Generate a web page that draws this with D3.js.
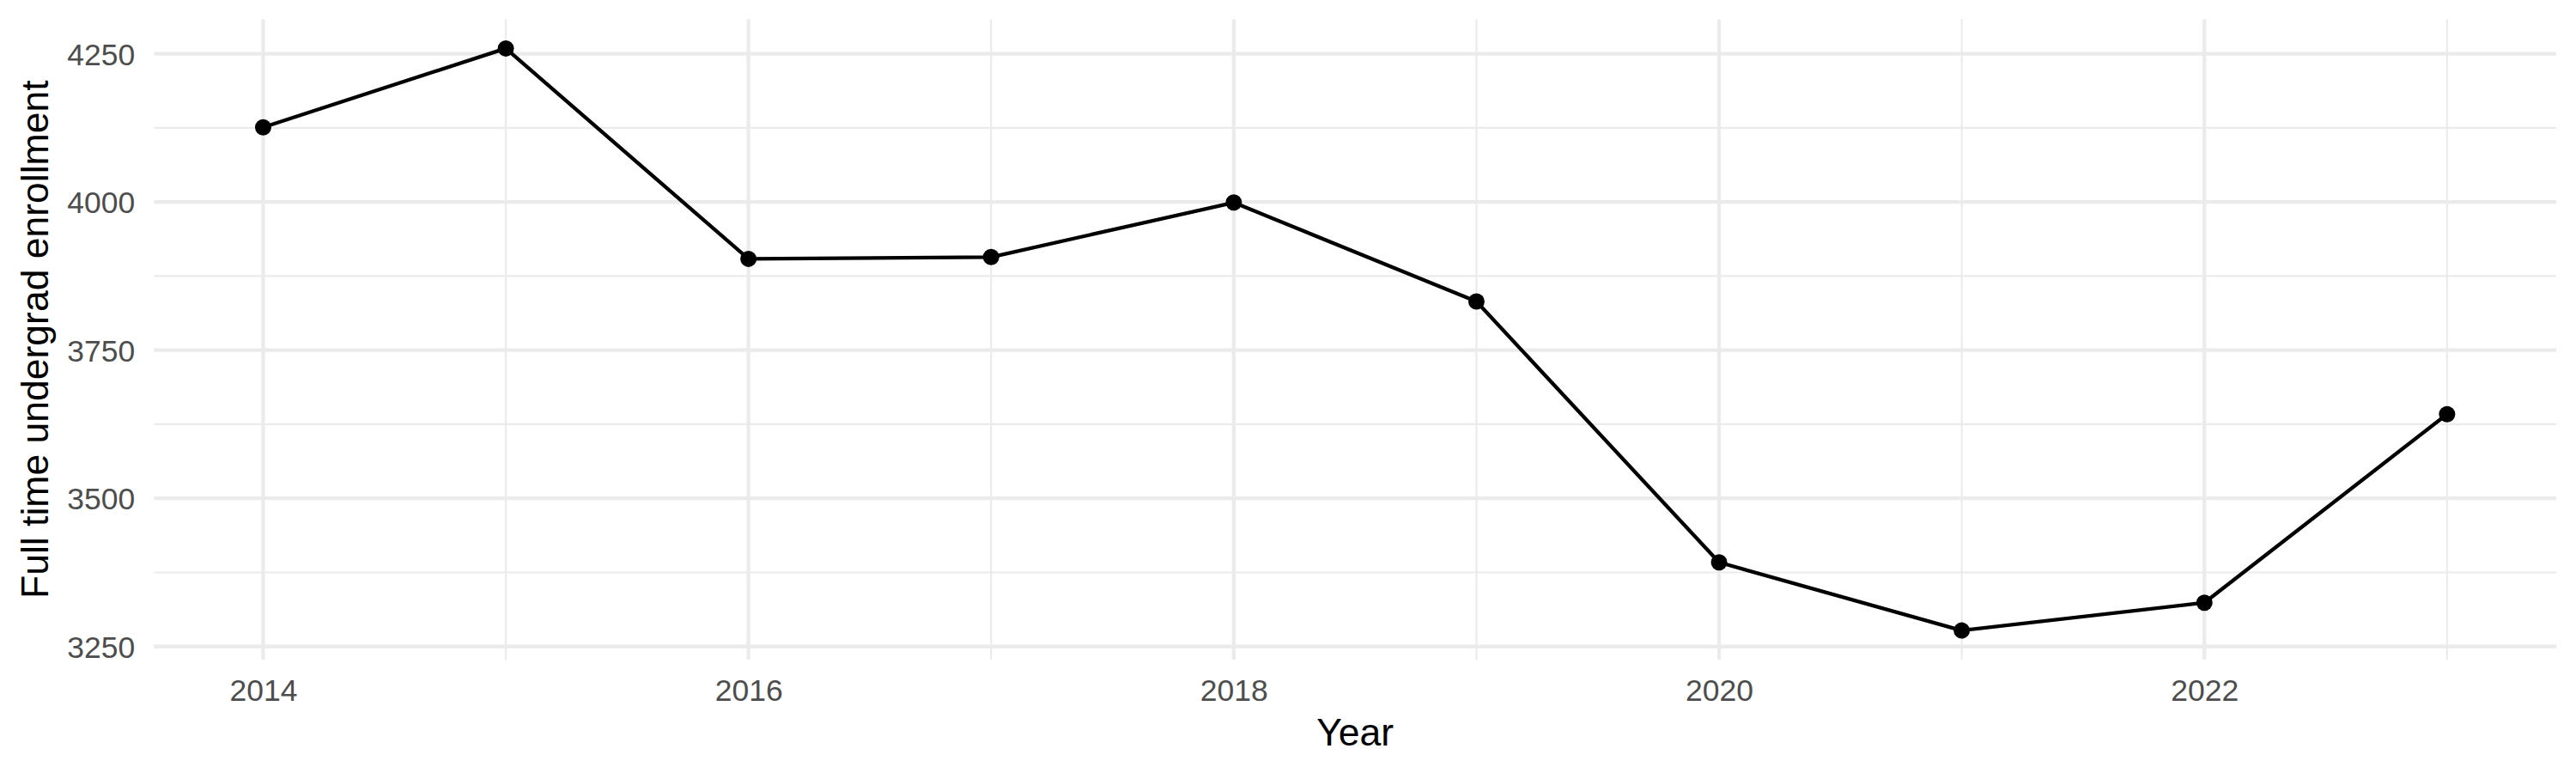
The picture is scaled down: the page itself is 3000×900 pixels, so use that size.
<!DOCTYPE html>
<html>
<head>
<meta charset="utf-8">
<script src="https://cdn.jsdelivr.net/npm/d3@7"></script>
<style>
  html, body { margin: 0; padding: 0; background: #fff; }
  svg { display: block; }
</style>
</head>
<body>
<svg id="chart" width="3000" height="900"></svg>
<script>
// ---- data ----
const years = [2014, 2015, 2016, 2017, 2018, 2019, 2020, 2021, 2022, 2023];
const enrollment = [4126, 4259, 3904, 3907, 3999, 3832, 3392, 3277, 3324, 3642];
const xTicks = [2014, 2016, 2018, 2020, 2022];
const xMinorTicks = [2015, 2017, 2019, 2021, 2023];
const yTicks = [3250, 3500, 3750, 4000, 4250];
const yMinorTicks = [3375, 3625, 3875, 4125];
const xTitle = "Year";
const yTitle = "Full time undergrad enrollment";

// ---- layout ----
const W = 3000, H = 900;
const panel = { left: 179.3, right: 2977, top: 22.5, bottom: 768 };
const font = "'Liberation Sans', Arimo, Arial, Helvetica, sans-serif";

const svg = d3.select("#chart");

const xMin = d3.min(years), xMax = d3.max(years);
const xPad = (xMax - xMin) * 0.05;
const x = d3.scaleLinear().domain([xMin - xPad, xMax + xPad]).range([panel.left, panel.right]);

const yMin = d3.min(enrollment), yMax = d3.max(enrollment);
const yPad = (yMax - yMin) * 0.05;
const y = d3.scaleLinear().domain([yMin - yPad, yMax + yPad]).range([panel.bottom, panel.top]);

const grid = svg.append("g");
// minor grid
grid.selectAll("line.ymin").data(yMinorTicks).join("line")
  .attr("x1", panel.left).attr("x2", panel.right)
  .attr("y1", d => y(d)).attr("y2", d => y(d))
  .attr("stroke", "#EBEBEB").attr("stroke-width", 2.2);
grid.selectAll("line.xmin").data(xMinorTicks).join("line")
  .attr("y1", panel.top).attr("y2", panel.bottom)
  .attr("x1", d => x(d)).attr("x2", d => x(d))
  .attr("stroke", "#EBEBEB").attr("stroke-width", 2.2);
// major grid
grid.selectAll("line.ymaj").data(yTicks).join("line")
  .attr("x1", panel.left).attr("x2", panel.right)
  .attr("y1", d => y(d)).attr("y2", d => y(d))
  .attr("stroke", "#EBEBEB").attr("stroke-width", 4.3);
grid.selectAll("line.xmaj").data(xTicks).join("line")
  .attr("y1", panel.top).attr("y2", panel.bottom)
  .attr("x1", d => x(d)).attr("x2", d => x(d))
  .attr("stroke", "#EBEBEB").attr("stroke-width", 4.3);

// axes (labels only, ggplot theme_minimal)
const yAxis = d3.axisLeft(y).tickValues(yTicks).tickSize(0).tickPadding(22).tickFormat(d3.format("d"));
const yg = svg.append("g").attr("transform", `translate(${panel.left},0)`).call(yAxis);
yg.select(".domain").remove();
yg.selectAll("text").attr("font-family", font).attr("font-size", 35.5).attr("fill", "#4D4D4D").attr("dy", "0.36em");

const xAxis = d3.axisBottom(x).tickValues(xTicks).tickSize(0).tickPadding(0).tickFormat(d3.format("d"));
const xg = svg.append("g").attr("transform", `translate(0,${panel.bottom})`).call(xAxis);
xg.select(".domain").remove();
xg.selectAll("text").attr("font-family", font).attr("font-size", 35.5).attr("fill", "#4D4D4D")
  .attr("y", 48).attr("dy", 0);

// line
const pts = years.map((yr, i) => ({ yr, v: enrollment[i] }));
const line = d3.line().x(d => x(d.yr)).y(d => y(d.v));
svg.append("path").datum(pts)
  .attr("d", line).attr("fill", "none")
  .attr("stroke", "#000").attr("stroke-width", 4.3)
  .attr("stroke-linejoin", "round");

svg.append("g").selectAll("circle").data(pts).join("circle")
  .attr("cx", d => x(d.yr)).attr("cy", d => y(d.v)).attr("r", 9.5)
  .attr("fill", "#000");

// titles
svg.append("text")
  .attr("x", (panel.left + panel.right) / 2).attr("y", 867.7)
  .attr("text-anchor", "middle")
  .attr("font-family", font).attr("font-size", 44.5).attr("fill", "#000")
  .text(xTitle);

svg.append("text")
  .attr("transform", `translate(56,${(panel.top + panel.bottom) / 2}) rotate(-90)`)
  .attr("text-anchor", "middle")
  .attr("font-family", font).attr("font-size", 44.5).attr("fill", "#000")
  .text(yTitle);
</script>
</body>
</html>
